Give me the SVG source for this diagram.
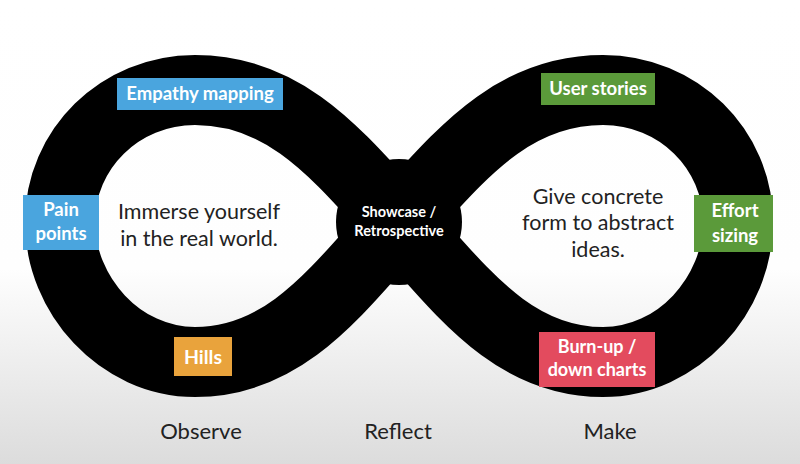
<svg xmlns="http://www.w3.org/2000/svg" width="800" height="464" viewBox="0 0 800 464">
  <defs>
    <linearGradient id="bg" x1="0" y1="0" x2="0" y2="1">
      <stop offset="0" stop-color="#ffffff"/>
      <stop offset="0.58" stop-color="#fefefe"/>
      <stop offset="1" stop-color="#dcdcdc"/>
    </linearGradient>
  </defs>
  <style>
    .lbl { font-family: Lato, "Liberation Sans", sans-serif; font-weight: bold; fill: #ffffff; text-anchor: middle; }
    .body { font-family: Lato, "Liberation Sans", sans-serif; fill: #222222; text-anchor: middle; font-size: 21.5px; }
    .phase { font-family: Lato, "Liberation Sans", sans-serif; fill: #222222; text-anchor: middle; font-size: 22px; }
  </style>
  <rect x="0" y="0" width="800" height="464" fill="url(#bg)"/>

  <g id="connectors">
    <path id="loop" d="M399 222 C340 158 288 90 195 90 C120 90 60 149 60 222 C60 295 120 362 195 362 C288 362 340 286 399 222 C458 158 510 90 603 90 C678 90 738 149 738 222 C738 295 678 362 603 362 C510 362 458 286 399 222 Z" fill="none" stroke="#000000" stroke-width="70" stroke-linejoin="round"/>
  </g>

  <g id="center">
    <circle cx="399" cy="222" r="63" fill="#000000"/>
    <text class="lbl" x="399" y="217" font-size="14.5">Showcase /</text>
    <text class="lbl" x="399" y="236" font-size="14.5">Retrospective</text>
  </g>

  <g id="observe-text">
    <text class="body" x="199" y="219">Immerse yourself</text>
    <text class="body" x="199" y="246">in the real world.</text>
  </g>

  <g id="make-text">
    <text class="body" x="598" y="204">Give concrete</text>
    <text class="body" x="598" y="230">form to abstract</text>
    <text class="body" x="598" y="257">ideas.</text>
  </g>

  <g id="empathy">
    <rect x="117" y="78" width="166" height="32" fill="#4aa5de"/>
    <text class="lbl" x="200" y="100" font-size="18.5">Empathy mapping</text>
  </g>

  <g id="pain">
    <rect x="23" y="195" width="76" height="55" fill="#4aa5de"/>
    <text class="lbl" x="61" y="216" font-size="18.5">Pain</text>
    <text class="lbl" x="61" y="240" font-size="18.5">points</text>
  </g>

  <g id="hills">
    <rect x="174" y="337" width="58" height="39" fill="#e9a33c"/>
    <text class="lbl" x="203" y="364" font-size="19.5">Hills</text>
  </g>

  <g id="userstories">
    <rect x="541" y="73" width="114" height="32" fill="#5b9a3a"/>
    <text class="lbl" x="598" y="95" font-size="18.5">User stories</text>
  </g>

  <g id="effort">
    <rect x="694" y="195" width="79" height="57" fill="#5b9a3a"/>
    <text class="lbl" x="735" y="217" font-size="18.5">Effort</text>
    <text class="lbl" x="735" y="242" font-size="18.5">sizing</text>
  </g>

  <g id="burnup">
    <rect x="539" y="332" width="116" height="55" fill="#e34b5e"/>
    <text class="lbl" x="597" y="353" font-size="18">Burn-up /</text>
    <text class="lbl" x="597" y="376" font-size="18">down charts</text>
  </g>

  <g id="phases">
    <text class="phase" x="201" y="439">Observe</text>
    <text class="phase" x="398" y="439">Reflect</text>
    <text class="phase" x="610" y="439">Make</text>
  </g>
</svg>
